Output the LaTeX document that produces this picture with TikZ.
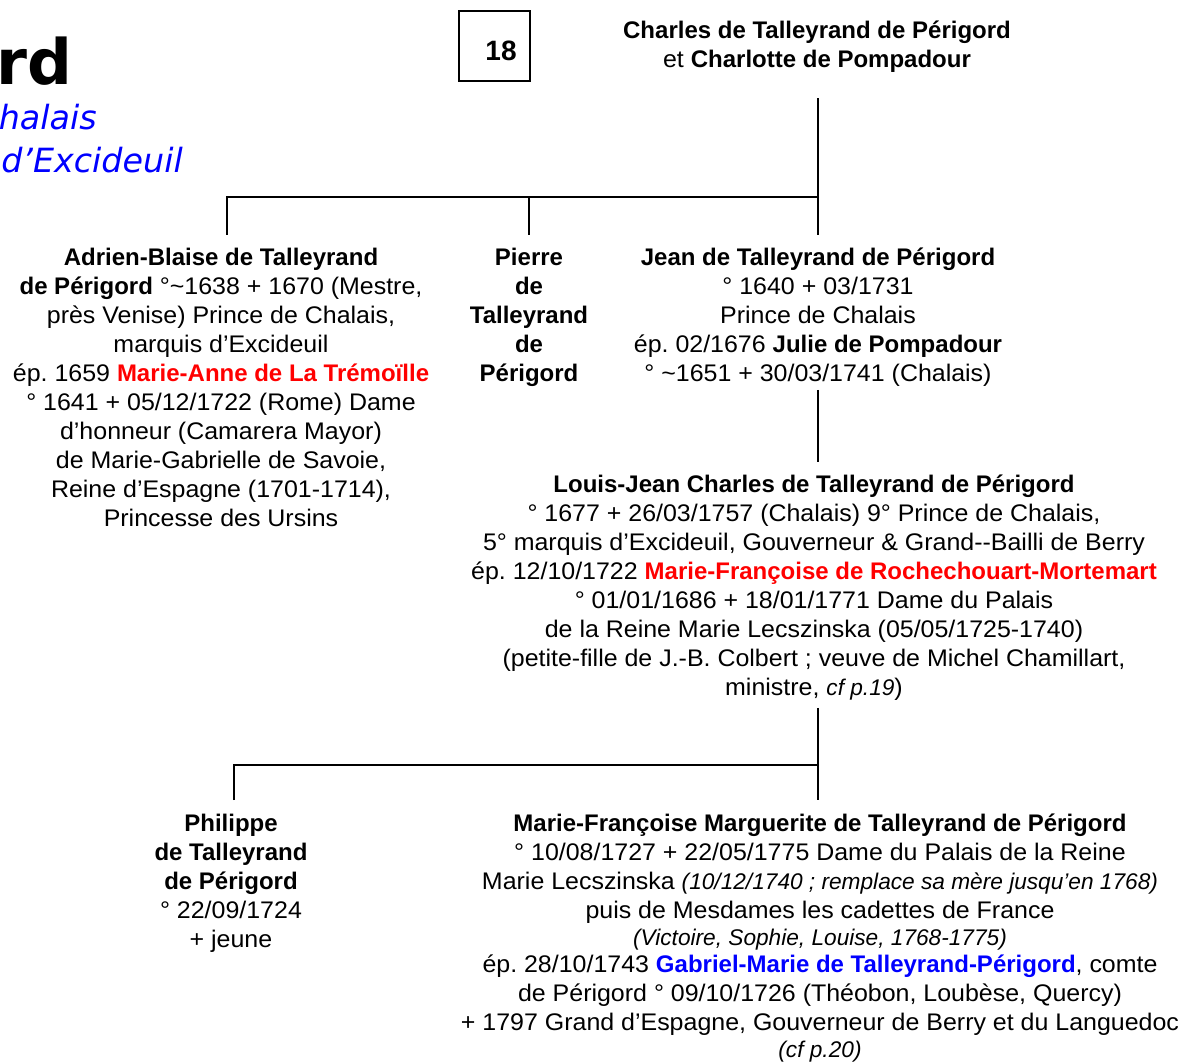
\documentclass[tikz,border=0pt]{standalone}
\usepackage{fontspec}
\setmainfont{Liberation Sans}[UprightFeatures={FakeStretch=1.04}]
\newfontfamily\headfont{DejaVu Sans}
\definecolor{tred}{RGB}{255,0,0}
\definecolor{tblue}{RGB}{0,0,255}
\newcommand\smallit{\fontsize{17}{21.75}\selectfont\itshape}
\frenchspacing

\tikzset{
  person/.style={anchor=north, inner sep=0pt, align=center, font=\fontsize{18}{21.75}\selectfont},
  conn/.style={line width=1.5pt},
  numbox/.style={draw, line width=1.5pt, minimum width=53pt, minimum height=53pt, inner sep=0pt}
}

\begin{document}
\begin{tikzpicture}[x=0.75pt,y=-0.75pt]
\useasboundingbox (0,0) rectangle (1182,1062);

% titre (coupe a gauche)
\node[anchor=base east, inner sep=0pt, font=\headfont\bfseries\fontsize{47}{52}\selectfont] (title) at (73,85) {rd};
\node[anchor=base east, inner sep=0pt, text=tblue, font=\headfont\itshape\fontsize{25}{30}\selectfont] (sub1) at (97,130) {halais};
\node[anchor=base east, inner sep=0pt, text=tblue, font=\headfont\itshape\fontsize{25}{30}\selectfont] (sub2) at (183,173) {d’Excideuil};

\node[numbox] (box) at (494.5,46) {};
\node[inner sep=0pt, font=\bfseries\fontsize{21}{25}\selectfont] (num) at (501,51) {18};

% generation 1
\node[person] (parents) at (817,21) {\textbf{Charles de Talleyrand de Périgord}\\et \textbf{Charlotte de Pompadour}};

% generation 2
\node[person] (adrien) at (221,248) {\textbf{Adrien-Blaise de Talleyrand}\\
\textbf{de Périgord} °\textasciitilde1638 + 1670 (Mestre,\\
près Venise) Prince de Chalais,\\
marquis d’Excideuil\\
ép. 1659 \textcolor{tred}{\textbf{Marie-Anne de La Trémoïlle}}\\
° 1641 + 05/12/1722 (Rome) Dame\\
d’honneur (Camarera Mayor)\\
de Marie-Gabrielle de Savoie,\\
Reine d’Espagne (1701-1714),\\
Princesse des Ursins};
\node[person, font=\bfseries\fontsize{18}{21.75}\selectfont] (pierre) at (529,248) {Pierre\\de\\Talleyrand\\de\\Périgord};
\node[person] (jean) at (818,248) {\textbf{Jean de Talleyrand de Périgord}\\
° 1640 + 03/1731\\
Prince de Chalais\\
ép. 02/1676 \textbf{Julie de Pompadour}\\
° \textasciitilde1651 + 30/03/1741 (Chalais)};

% generation 3
\node[person] (louis) at (814,475) {\textbf{Louis-Jean Charles de Talleyrand de Périgord}\\
° 1677 + 26/03/1757 (Chalais) 9° Prince de Chalais,\\
5° marquis d’Excideuil, Gouverneur \& Grand-{}-Bailli de Berry\\
ép. 12/10/1722 \textcolor{tred}{\textbf{Marie-Françoise de Rochechouart-Mortemart}}\\
° 01/01/1686 + 18/01/1771 Dame du Palais\\
de la Reine Marie Lecszinska (05/05/1725-1740)\\
(petite-fille de J.-B. Colbert ; veuve de Michel Chamillart,\\
ministre, {\smallit cf p.19})};

% generation 4
\node[person] (philippe) at (231,814) {\textbf{Philippe}\\\textbf{de Talleyrand}\\\textbf{de Périgord}\\° 22/09/1724\\+ jeune};
\node[person] (marie) at (820,814) {\textbf{Marie-Françoise Marguerite de Talleyrand de Périgord}\\
° 10/08/1727 + 22/05/1775 Dame du Palais de la Reine\\
Marie Lecszinska {\smallit (10/12/1740 ; remplace sa mère jusqu’en 1768)}\\
puis de Mesdames les cadettes de France\\[-1.5pt]
{\smallit (Victoire, Sophie, Louise, 1768-1775)}\\[-1.5pt]
ép. 28/10/1743 \textcolor{tblue}{\textbf{Gabriel-Marie de Talleyrand-Périgord}}, comte\\
de Périgord ° 09/10/1726 (Théobon, Loubèse, Quercy)\\
+ 1797 Grand d’Espagne, Gouverneur de Berry et du Languedoc\\[-2pt]
{\smallit (cf p.20)}};

% liens
\coordinate (bar1) at (818,197);
\coordinate (bar1l) at (227,197);
\coordinate (bar2) at (818,765);
\coordinate (bar2l) at (234,765);
\draw[conn, shorten <=18.75pt, shorten >=9.75pt] (parents.south -| bar1) -- (jean.north -| bar1);
\draw[conn, shorten <=9.75pt] (adrien.north -| bar1l) -- (bar1l) -- (bar1);
\draw[conn, shorten <=9.75pt] (pierre.north) -- (pierre.north |- bar1);
\draw[conn, shorten <=2pt, shorten >=9.75pt] (jean.south) -- (louis.north -| jean.south);
\draw[conn, shorten <=5pt, shorten >=10.5pt] (louis.south -| bar2) -- (marie.north -| bar2);
\draw[conn, shorten <=10.5pt] (philippe.north -| bar2l) -- (bar2l) -- (bar2);
\end{tikzpicture}
\end{document}
